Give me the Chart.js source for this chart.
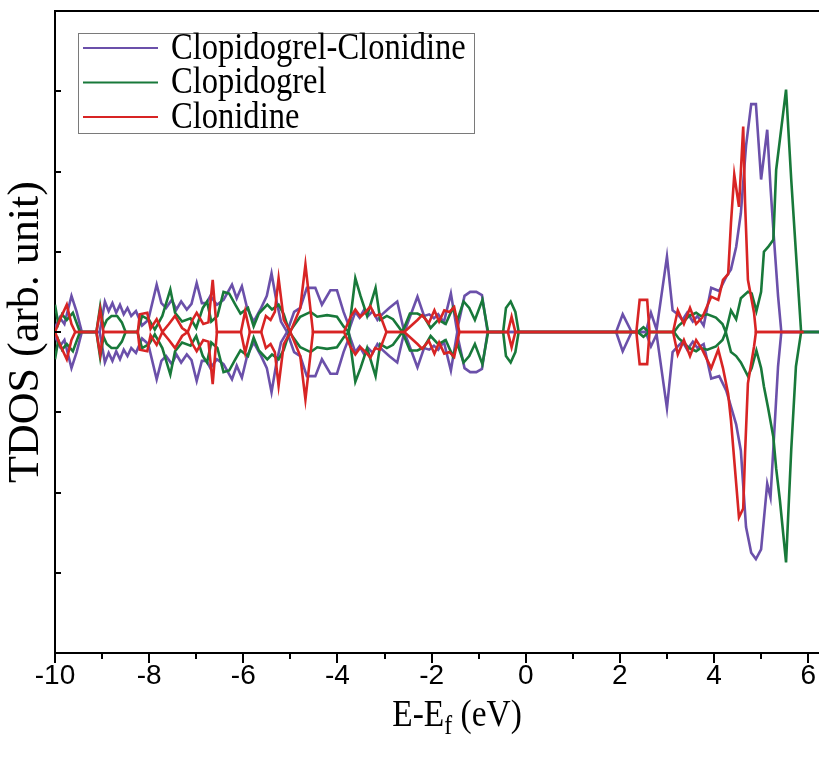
<!DOCTYPE html>
<html lang="en">
<head>
<meta charset="UTF-8">
<title>TDOS</title>
<script src="https://cdn.jsdelivr.net/npm/chart.js"></script>
<style>
  html, body { margin: 0; padding: 0; background: #fff; }
  #wrap { width: 819px; height: 760px; }
</style>
</head>
<body>
<div id="wrap"><canvas id="tdos"></canvas></div>
<script>
// energies (eV) and spin up / spin down TDOS
const eCC = [
  -10.00, -9.90, -9.80, -9.65, -9.54, -9.43, -9.05, -8.94, -8.86, -8.78,
  -8.70, -8.62, -8.54, -8.46, -8.38, -8.28, -8.15, -8.02, -7.84, -7.74,
  -7.64, -7.52, -7.42, -7.32, -7.20, -7.10, -6.99, -6.88, -6.78, -6.70,
  -6.56, -6.42, -6.24, -6.14, -6.03, -5.92, -5.78, -5.62, -5.50, -5.40,
  -5.30, -5.20, -5.07, -4.92, -4.79, -4.65, -4.47, -4.33, -4.15, -4.01,
  -3.87, -3.74, -3.62, -3.53, -3.44, -3.35, -3.25, -3.15, -3.05, -2.90,
  -2.73, -2.58, -2.30, -2.16, -2.05, -1.95, -1.86, -1.74, -1.59, -1.46,
  -1.30, -1.18, -1.05, -0.93, -0.81, 1.92, 2.06, 2.25, 2.55, 2.66,
  2.78, 3.00, 3.12, 3.23, 3.33, 3.43, 3.55, 3.65, 3.78, 3.94,
  4.11, 4.26, 4.36, 4.47, 4.57, 4.68, 4.79, 4.89, 5.00, 5.13,
  5.20, 5.27, 5.36, 5.43, 6.23
];
const upCC = [
  0.05, 0.18, 0.10, 0.45, 0.25, 0, 0, 0.38, 0.26, 0.36,
  0.24, 0.34, 0.22, 0.30, 0.20, 0.26, 0.08, 0.15, 0.59, 0.36,
  0.30, 0.40, 0.28, 0.38, 0.28, 0.35, 0.61, 0.36, 0.36, 0.45,
  0.34, 0.40, 0.59, 0.42, 0.57, 0.30, 0.13, 0.30, 0.45, 0.73,
  0.40, 0.13, 0, 0.25, 0.30, 0.55, 0.55, 0.34, 0.52, 0.52,
  0.25, 0.05, 0.25, 0.18, 0.27, 0.20, 0.26, 0.15, 0.22, 0.30,
  0.38, 0, 0.44, 0.20, 0.22, 0.17, 0.22, 0.12, 0.48, 0.02,
  0.45, 0.50, 0.50, 0.46, 0, 0, 0.22, 0, 0, 0.24,
  0.03, 0.94, 0.27, 0.22, 0.15, 0.24, 0.13, 0.20, 0.08, 0.55,
  0.51, 0.69, 0.78, 1.06, 1.48, 2.32, 2.84, 2.84, 1.90, 2.52,
  1.80, 1.19, 0.45, 0, 0
];
const dnCC = [
  -0.05, -0.18, -0.10, -0.45, -0.25, 0, 0, -0.38, -0.26, -0.36,
  -0.24, -0.34, -0.22, -0.30, -0.20, -0.26, -0.08, -0.15, -0.59, -0.36,
  -0.30, -0.40, -0.28, -0.38, -0.28, -0.35, -0.61, -0.36, -0.36, -0.45,
  -0.34, -0.40, -0.59, -0.42, -0.57, -0.30, -0.13, -0.30, -0.45, -0.75,
  -0.40, -0.13, 0, -0.25, -0.30, -0.55, -0.55, -0.34, -0.52, -0.52,
  -0.25, -0.05, -0.25, -0.18, -0.27, -0.20, -0.26, -0.15, -0.22, -0.30,
  -0.38, 0, -0.44, -0.20, -0.22, -0.17, -0.22, -0.12, -0.48, -0.02,
  -0.45, -0.50, -0.50, -0.46, 0, 0, -0.24, 0, 0, -0.18,
  -0.03, -0.95, -0.25, -0.18, -0.12, -0.22, -0.12, -0.20, -0.15, -0.58,
  -0.55, -0.73, -0.93, -1.15, -1.48, -2.43, -2.75, -2.83, -2.71, -1.89,
  -2.06, -1.35, -0.43, 0, 0
];

const eCP = [
  -10.00, -9.93, -9.85, -9.75, -9.62, -9.47, -9.12, -9.04, -8.97, -8.90,
  -8.80, -8.68, -8.58, -8.50, -8.25, -8.15, -8.00, -7.88, -7.72, -7.55,
  -7.45, -7.30, -7.12, -7.00, -6.86, -6.77, -6.68, -6.55, -6.42, -6.30,
  -6.17, -6.06, -5.90, -5.78, -5.67, -5.49, -5.39, -5.25, -5.14, -5.02,
  -4.79, -4.57, -4.43, -4.22, -4.01, -3.87, -3.76, -3.62, -3.51, -3.37,
  -3.19, -3.09, -2.95, -2.82, -2.62, -2.46, -2.30, -2.16, -2.02, -1.86,
  -1.70, -1.55, -1.45, -1.32, -1.20, -1.08, -0.92, -0.80, -0.48, -0.42,
  -0.32, -0.22, -0.15, 2.38, 2.50, 2.62, 3.15, 3.25, 3.37, 3.47,
  3.62, 3.72, 3.86, 4.04, 4.18, 4.25, 4.36, 4.47, 4.57, 4.72,
  4.80, 4.90, 5.00, 5.06, 5.15, 5.26, 5.32, 5.40, 5.53, 5.64,
  5.74, 5.85, 6.23
];
const upCP = [
  0.34, 0.10, 0.22, 0.15, 0.24, 0, 0, 0.32, 0.06, 0.15,
  0.20, 0.20, 0.12, 0, 0, 0.20, 0.15, 0.03, 0.20, 0.53,
  0.24, 0.13, 0.17, 0.05, 0.30, 0.38, 0.13, 0.20, 0.50, 0.48,
  0.34, 0.23, 0.30, 0.07, 0.23, 0.34, 0.28, 0.34, 0.22, 0,
  0.19, 0.25, 0.19, 0.21, 0.19, 0.07, 0, 0.67, 0.45, 0.20,
  0.55, 0.15, 0.20, 0.16, 0, 0.23, 0.23, 0.19, 0.05, 0.15,
  0.10, 0.30, 0.15, 0.38, 0.30, 0.15, 0.40, 0, 0, 0.30,
  0.38, 0.25, 0, 0, 0.06, 0, 0, 0.08, 0.14, 0.20,
  0.24, 0.20, 0.22, 0.18, 0.10, 0, 0.27, 0.16, 0.42, 0.50,
  0.48, 0.26, 0.50, 1.00, 1.06, 1.15, 2.02, 2.40, 3.02, 1.90,
  0.99, 0, 0
];
const dnCP = [
  -0.34, -0.10, -0.22, -0.15, -0.24, 0, 0, -0.32, -0.06, -0.15,
  -0.20, -0.20, -0.12, 0, 0, -0.20, -0.15, -0.03, -0.20, -0.53,
  -0.24, -0.13, -0.17, -0.05, -0.30, -0.38, -0.13, -0.20, -0.50, -0.48,
  -0.34, -0.23, -0.30, -0.07, -0.23, -0.34, -0.28, -0.34, -0.22, 0,
  -0.19, -0.25, -0.19, -0.21, -0.19, -0.07, 0, -0.62, -0.45, -0.20,
  -0.55, -0.15, -0.20, -0.16, 0, -0.23, -0.23, -0.19, -0.05, -0.15,
  -0.10, -0.30, -0.15, -0.38, -0.30, -0.15, -0.40, 0, 0, -0.30,
  -0.38, -0.25, 0, 0, -0.06, 0, 0, -0.08, -0.14, -0.20,
  -0.24, -0.20, -0.22, -0.18, -0.10, 0, -0.25, -0.30, -0.38, -0.55,
  -0.45, -0.23, -0.45, -0.68, -0.95, -1.31, -1.70, -2.10, -2.87, -1.47,
  -0.43, 0, 0
];

const eCL = [
  -10.00, -9.90, -9.75, -9.65, -9.57, -9.12, -9.04, -8.97, -8.24, -8.20,
  -8.04, -7.97, -7.84, -7.72, -7.58, -7.45, -7.30, -7.18, -7.08, -6.99,
  -6.85, -6.74, -6.65, -6.56, -6.05, -5.96, -5.86, -5.62, -5.52, -5.42,
  -5.33, -5.25, -5.14, -5.00, -4.79, -4.68, -4.52, -3.86, -3.72, -3.62,
  -3.51, -3.40, -3.30, -3.20, -3.10, -2.96, -2.58, -2.30, -2.20, -2.06,
  -1.94, -1.84, -1.73, -1.62, -1.52, -1.41, -0.38, -0.30, -0.22, 2.35,
  2.42, 2.58, 2.63, 3.13, 3.23, 3.36, 3.49, 3.62, 3.75, 3.94,
  4.09, 4.19, 4.30, 4.36, 4.43, 4.53, 4.62, 4.66, 4.72, 4.85,
  4.89, 5.90
];
const upCL = [
  0, 0.15, 0.34, 0.10, 0, 0, 0.28, 0, 0, 0.22,
  0.24, 0.04, 0.16, 0, 0.10, 0.20, 0.05, 0, 0.15, 0.24,
  0.10, 0.12, 0.65, 0, 0, 0.26, 0, 0, 0.20, 0.15,
  0.25, 0.67, 0.15, 0, 0.30, 0.84, 0, 0, 0.19, 0.28,
  0.19, 0.25, 0.32, 0.20, 0.22, 0, 0, 0.15, 0.21, 0.11,
  0.27, 0.13, 0.27, 0.25, 0.31, 0, 0, 0.19, 0, 0,
  0.40, 0.40, 0, 0, 0.27, 0.10, 0.30, 0.10, 0.18, 0.44,
  0.40, 0.65, 0.72, 1.36, 1.96, 1.56, 2.56, 1.60, 0.65, 0.24,
  0, 0
];
const dnCL = [
  0, -0.15, -0.34, -0.10, 0, 0, -0.28, 0, 0, -0.22,
  -0.24, -0.04, -0.16, 0, -0.10, -0.20, -0.05, 0, -0.15, -0.24,
  -0.10, -0.12, -0.65, 0, 0, -0.26, 0, 0, -0.20, -0.15,
  -0.25, -0.67, -0.15, 0, -0.30, -0.84, 0, 0, -0.19, -0.28,
  -0.19, -0.25, -0.32, -0.20, -0.22, 0, 0, -0.15, -0.21, -0.11,
  -0.27, -0.13, -0.27, -0.25, -0.31, 0, 0, -0.19, 0, 0,
  -0.40, -0.40, 0, 0, -0.28, -0.10, -0.30, -0.10, -0.22, -0.45,
  -0.22, -0.45, -0.77, -1.10, -1.60, -2.31, -2.20, -1.50, -0.64, -0.18,
  0, 0
];

const seriesNames = ['Clopidogrel-Clonidine', 'Clopidogrel', 'Clonidine'];
const seriesColors = ['#6b50aa', '#18793a', '#d82424'];
const xTickValues = [-10, -8, -6, -4, -2, 0, 2, 4, 6];

function toPoints(xs, ys) {
  return xs.map(function (x, i) { return { x: x, y: ys[i] }; });
}

const groups = [[eCC, upCC, dnCC], [eCP, upCP, dnCP], [eCL, upCL, dnCL]];
const datasets = [];
groups.forEach(function (g, k) {
  // red is drawn on top, then green, then purple
  const common = {
    borderColor: seriesColors[k],
    borderWidth: 2.6,
    pointRadius: 0,
    tension: 0,
    fill: false,
    order: 2 - k
  };
  datasets.push(Object.assign({ label: seriesNames[k], data: toPoints(g[0], g[1]) }, common));
  datasets.push(Object.assign({ label: seriesNames[k] + ' down', data: toPoints(g[0], g[2]), spinDown: true }, common));
});

// frame top line, tick marks (x out, y in), boxed legend, x title with subscript
const decorations = {
  id: 'decorations',
  afterDraw(chart) {
    const ctx = chart.ctx;
    const a = chart.chartArea;
    const xs = chart.scales.x, ys = chart.scales.y;
    ctx.save();
    ctx.strokeStyle = '#000';
    ctx.lineWidth = 2;
    ctx.beginPath();
    ctx.moveTo(a.left - 1, a.top);
    ctx.lineTo(a.right, a.top);
    // x ticks pointing down, long at labelled values
    xs.ticks.forEach(function (t) {
      const px = Math.round(xs.getPixelForValue(t.value));
      const len = xTickValues.indexOf(t.value) >= 0 ? 10 : 6;
      ctx.moveTo(px, a.bottom);
      ctx.lineTo(px, a.bottom + len);
    });
    // y ticks pointing into the plot
    ys.ticks.forEach(function (t) {
      const py = Math.round(ys.getPixelForValue(t.value));
      ctx.moveTo(a.left, py);
      ctx.lineTo(a.left + 6, py);
    });
    ctx.stroke();

    // legend
    const bx = a.left + 23, by = a.top + 22, bw = 396, bh = 100;
    ctx.fillStyle = '#fff';
    ctx.fillRect(bx, by, bw, bh);
    ctx.strokeStyle = '#7a7a7a';
    ctx.lineWidth = 1;
    ctx.strokeRect(bx + 0.5, by + 0.5, bw, bh);
    const shown = chart.data.datasets.filter(function (d) { return !d.spinDown; });
    shown.forEach(function (d, i) {
      const y = by + 15 + i * 34.5;
      ctx.strokeStyle = d.borderColor;
      ctx.lineWidth = 2;
      ctx.beginPath();
      ctx.moveTo(bx + 5, y);
      ctx.lineTo(bx + 80, y);
      ctx.stroke();
      ctx.save();
      ctx.translate(bx + 93, y + 1);
      ctx.scale(0.88, 1);
      ctx.font = '37px "Liberation Serif", "Times New Roman", serif';
      ctx.textBaseline = 'middle';
      ctx.textAlign = 'left';
      ctx.fillStyle = '#000';
      ctx.fillText(d.label, 0, 0);
      ctx.restore();
    });

    // x axis title E-Ef (eV)
    const big = '38px "Liberation Serif", "Times New Roman", serif';
    const small = '27px "Liberation Serif", "Times New Roman", serif';
    const p1 = 'E-E', p2 = 'f', p3 = ' (eV)';
    const sx = 0.88;
    ctx.font = big;
    const w1 = ctx.measureText(p1).width, w3 = ctx.measureText(p3).width;
    ctx.font = small;
    const w2 = ctx.measureText(p2).width;
    const total = (w1 + w2 + w3) * sx;
    ctx.translate(457 - total / 2, 716);
    ctx.scale(sx, 1);
    ctx.fillStyle = '#000';
    ctx.textBaseline = 'middle';
    ctx.textAlign = 'left';
    ctx.font = big;
    ctx.fillText(p1, 0, 0);
    ctx.font = small;
    ctx.fillText(p2, w1, 11);
    ctx.font = big;
    ctx.fillText(p3, w1 + w2, 0);
    ctx.restore();
  }
};

new Chart(document.getElementById('tdos'), {
  type: 'line',
  data: { datasets: datasets },
  options: {
    responsive: true,
    maintainAspectRatio: false,
    animation: false,
    devicePixelRatio: 1,
    layout: { padding: { top: 11, right: 0, left: 0, bottom: 0 } },
    plugins: {
      legend: { display: false },
      tooltip: { enabled: false }
    },
    scales: {
      x: {
        type: 'linear',
        min: -10,
        max: 6.23,
        afterBuildTicks(scale) {
          const t = [];
          for (let v = -10; v <= 6; v++) t.push({ value: v });
          scale.ticks = t;
        },
        ticks: {
          autoSkip: false,
          maxRotation: 0,
          padding: 6,
          color: '#000',
          font: { family: '"Liberation Sans Narrow", "Liberation Sans", Arial, sans-serif', size: 28 },
          callback: function (v) { return xTickValues.indexOf(v) >= 0 ? String(v) : ''; }
        },
        grid: { drawOnChartArea: false, drawTicks: false },
        border: { display: true, color: '#000', width: 2 },
        afterFit(scale) {
          scale.height = 107;
          scale.paddingLeft = 0;
          scale.paddingRight = 0;
        }
      },
      y: {
        min: -4,
        max: 4,
        ticks: { stepSize: 1, display: false },
        grid: { drawOnChartArea: false, drawTicks: false },
        border: { display: true, color: '#000', width: 2 },
        title: {
          display: true,
          text: 'TDOS (arb. unit)',
          color: '#000',
          padding: 0,
          font: { family: '"Liberation Serif", "Times New Roman", serif', size: 44, weight: 'normal' }
        },
        afterFit(scale) { scale.width = 55; }
      }
    }
  },
  plugins: [decorations]
});
</script>
</body>
</html>
